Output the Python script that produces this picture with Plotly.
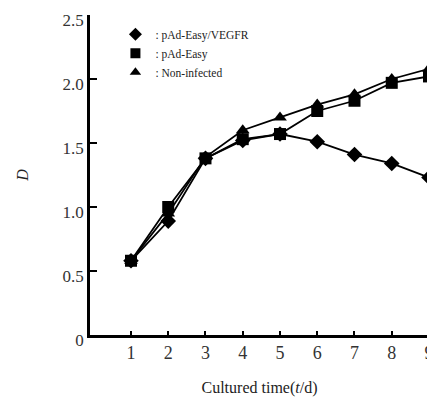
import plotly.graph_objects as go

days = [1, 2, 3, 4, 5, 6, 7, 8, 9]
vegfr = [0.58, 0.89, 1.38, 1.52, 1.57, 1.51, 1.41, 1.34, 1.23]
easy = [0.58, 1.00, 1.38, 1.53, 1.57, 1.75, 1.83, 1.97, 2.02]
noninf = [0.58, 0.95, 1.39, 1.60, 1.70, 1.80, 1.88, 2.00, 2.08]
names = [": pAd-Easy/VEGFR", ": pAd-Easy", ": Non-infected"]
symbols = ["diamond", "square", "triangle-up"]
series = [vegfr, easy, noninf]
y_ticks = [0, 0.5, 1.0, 1.5, 2.0, 2.5]
y_ticklabels = ["0", "0.5", "1.0", "1.5", "2.0", "2.5"]

fig = go.Figure()
for vals, sym in zip(series, symbols):
    fig.add_trace(go.Scatter(
        x=days, y=vals, mode="lines+markers", showlegend=False,
        line=dict(color="black", width=1.8),
        marker=dict(symbol=sym, size=12, color="black"),
        cliponaxis=False,
    ))
for name, sym in zip(names, symbols):
    fig.add_trace(go.Scatter(
        x=[None], y=[None], mode="markers", name=name,
        marker=dict(symbol=sym, size=10, color="black"),
    ))

# page body adds ~8px offset; compensate in size/margins
fig.update_layout(
    width=427, height=389,
    margin=dict(l=82, r=6, t=7, b=62),
    paper_bgcolor="white", plot_bgcolor="white",
    font=dict(family="Liberation Serif", color="black"),
    legend=dict(x=0.075, y=0.985, xanchor="left", yanchor="top",
                font=dict(size=11.5, family="Liberation Serif", color="#222"),
                itemwidth=30, tracegroupgap=0, bgcolor="rgba(0,0,0,0)"),
    xaxis=dict(range=[-0.1, 9], tickvals=days, showline=True, linecolor="black",
               linewidth=2.5, ticks="inside", ticklen=4, tickwidth=2, tickcolor="black",
               showgrid=False, zeroline=False, tickfont=dict(size=18, color="#333"),
               ticklabeloverflow="allow", automargin=False,
               title=dict(text="Cultured time(<i>t</i>/d)", font=dict(size=16, color="#222"), standoff=20)),
    yaxis=dict(range=[0, 2.5], tickvals=y_ticks, ticktext=y_ticklabels, showline=True,
               linecolor="black", linewidth=2.5, ticks="inside", ticklen=7, tickwidth=2,
               tickcolor="black", showgrid=False, zeroline=False, tickfont=dict(size=17, color="#333"),
               ticklabeloverflow="allow", automargin=False, ticklabelshift=5,
               title=dict(text="<i>D</i>", font=dict(size=16, color="#222"), standoff=30)),
)
fig.write_html("out.html")
